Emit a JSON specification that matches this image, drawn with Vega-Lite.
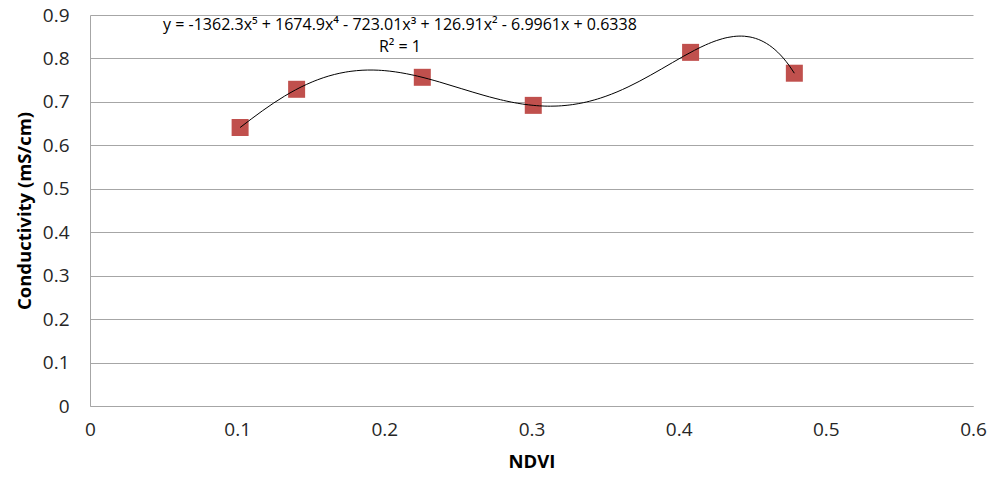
{
  "$schema": "https://vega.github.io/schema/vega-lite/v6.json",
  "width": 883,
  "height": 391,
  "autosize": {"type": "none"},
  "padding": {"left": 90, "top": 15, "right": 17, "bottom": 73},
  "background": "white",
  "config": {
    "view": {"stroke": null},
    "font": "Open Sans"
  },
  "datasets": {
    "pts": [
      {"NDVI": 0.102, "Conductivity": 0.641},
      {"NDVI": 0.1404, "Conductivity": 0.729},
      {"NDVI": 0.2258, "Conductivity": 0.7566},
      {"NDVI": 0.3012, "Conductivity": 0.692},
      {"NDVI": 0.4081, "Conductivity": 0.814},
      {"NDVI": 0.4786, "Conductivity": 0.766}
    ],
    "notes": [
      {"NDVI": 0.2106, "Conductivity": 0.877, "label": "y = -1362.3x⁵ + 1674.9x⁴ - 723.01x³ + 126.91x² - 6.9961x + 0.6338"},
      {"NDVI": 0.2106, "Conductivity": 0.826, "label": "R² = 1"}
    ]
  },
  "layer": [
    {
      "data": {"name": "pts"},
      "mark": {"type": "point", "shape": "square", "filled": true, "size": 289, "color": "#C0504D", "opacity": 1},
      "encoding": {
        "x": {
          "field": "NDVI", "type": "quantitative",
          "scale": {"domain": [0, 0.6], "nice": false},
          "axis": {
            "title": "NDVI", "values": [0, 0.1, 0.2, 0.3, 0.4, 0.5, 0.6], "format": "~g",
            "grid": false, "ticks": false, "domainColor": "#A6A6A6", "domainWidth": 1,
            "labelFontSize": 19, "labelColor": "#262626", "labelPadding": 14,
            "labelFlush": false,
            "titleFontSize": 18.5, "titleFontWeight": "bold", "titleColor": "#000000", "titlePadding": 13
          }
        },
        "y": {
          "field": "Conductivity", "type": "quantitative",
          "scale": {"domain": [0, 0.9], "nice": false},
          "axis": {
            "title": "Conductivity (mS/cm)", "values": [0, 0.1, 0.2, 0.3, 0.4, 0.5, 0.6, 0.7, 0.8, 0.9], "format": "~g",
            "grid": true, "gridColor": "#A6A6A6", "gridWidth": 1,
            "ticks": false, "domainColor": "#A6A6A6", "domainWidth": 1,
            "labelFontSize": 19, "labelColor": "#262626", "labelPadding": 21,
            "labelFlush": false,
            "titleFontSize": 18.5, "titleFontWeight": "bold", "titleColor": "#000000", "titlePadding": 8
          }
        }
      }
    },
    {
      "data": {"name": "pts"},
      "transform": [
        {"regression": "Conductivity", "on": "NDVI", "method": "poly", "order": 5}
      ],
      "mark": {"type": "line", "color": "#000000", "strokeWidth": 1, "interpolate": "monotone"},
      "encoding": {
        "x": {"field": "NDVI", "type": "quantitative"},
        "y": {"field": "Conductivity", "type": "quantitative"}
      }
    },
    {
      "data": {"name": "notes"},
      "mark": {"type": "text", "fontSize": 16, "color": "#000000", "align": "center", "baseline": "middle"},
      "encoding": {
        "x": {"field": "NDVI", "type": "quantitative"},
        "y": {"field": "Conductivity", "type": "quantitative"},
        "text": {"field": "label"}
      }
    }
  ]
}
